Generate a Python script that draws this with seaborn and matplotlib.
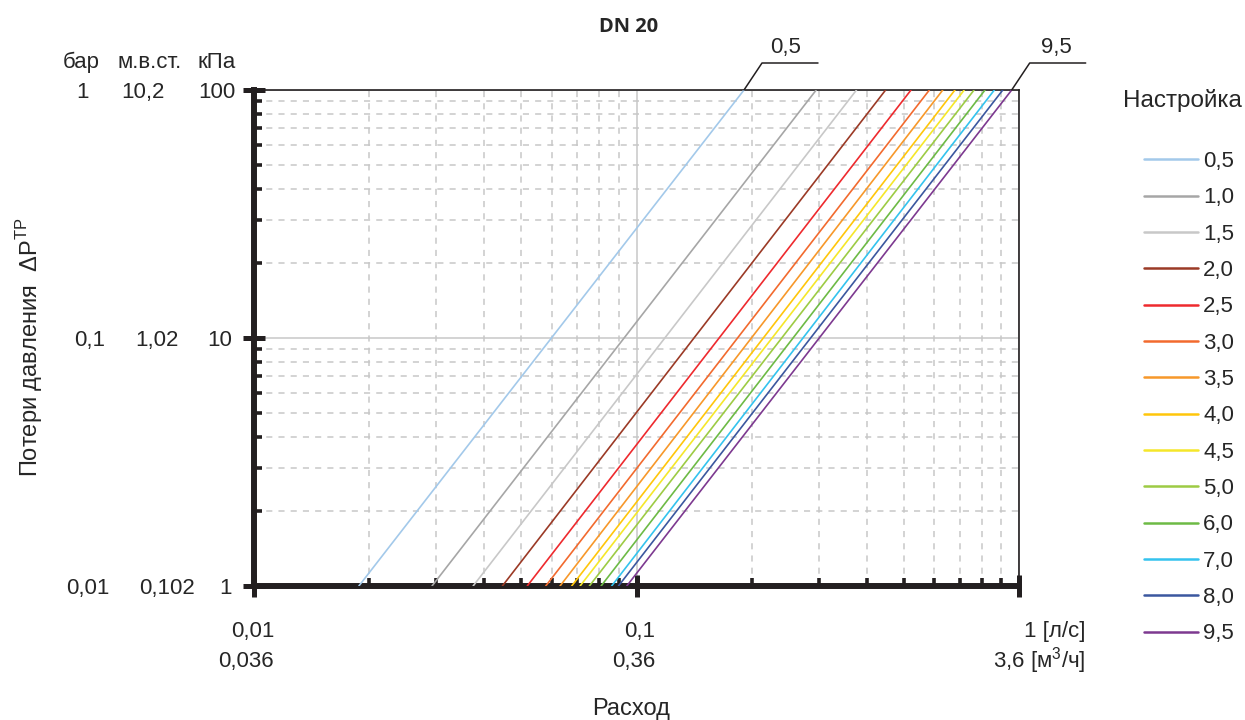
import pandas as pd
import matplotlib.pyplot as plt
import seaborn as sns

# Настройки клапана и расход (л/с) при 1 кПа и при 100 кПа
settings = ['0,5', '1,0', '1,5', '2,0', '2,5', '3,0', '3,5', '4,0', '4,5', '5,0', '6,0', '7,0', '8,0', '9,5']
q_at_1kpa = [0.0188, 0.0292, 0.0374, 0.0446, 0.0518, 0.0579, 0.0631, 0.0677, 0.0712, 0.0753, 0.0808, 0.0861, 0.0897, 0.0943]
q_at_100kpa = [0.191, 0.295, 0.376, 0.448, 0.522, 0.583, 0.632, 0.680, 0.719, 0.763, 0.815, 0.862, 0.907, 0.957]
dp_ends = [1, 100]

colors = ['#A3C9EA', '#A6A6A6', '#C8C8C8', '#9B3A26', '#EE2A2E', '#F26A2E', '#F7982A',
          '#FFC60B', '#F5E72A', '#9DCB44', '#6DBA45', '#34C3EE', '#3B579F', '#7D3990']

# подписи осей
x_ticks = [0.01, 0.1, 1]
x_lab_ls = ['0,01', '0,1', '1 [л/с]']
x_lab_m3 = ['0,036', '0,36', '3,6 [м$^3$/ч]']
y_ticks = [100, 10, 1]
y_lab_bar = ['1', '0,1', '0,01']
y_lab_mws = ['10,2', '1,02', '0,102']
y_lab_kpa = ['100', '10', '1']

rows = []
for s, q1, q2 in zip(settings, q_at_1kpa, q_at_100kpa):
    rows.append({'Настройка': s, 'Q': q1, 'dP': dp_ends[0]})
    rows.append({'Настройка': s, 'Q': q2, 'dP': dp_ends[1]})
df = pd.DataFrame(rows)

sns.set_style('white')
plt.rcParams['font.family'] = ['Liberation Sans', 'DejaVu Sans']
plt.rcParams['mathtext.fontset'] = 'custom'
plt.rcParams['mathtext.rm'] = 'Liberation Sans'

ink = '#231F20'
fig = plt.figure(figsize=(12.45, 7.2), dpi=100)
ax = fig.add_axes([254 / 1245, 1 - 586 / 720, (1019 - 254) / 1245, (586 - 90) / 720])
ax.set_xscale('log')
ax.set_yscale('log')

sns.lineplot(data=df, x='Q', y='dP', hue='Настройка', hue_order=settings,
             palette=colors, estimator=None, sort=False, lw=1.2, ax=ax, zorder=3)

ax.set_xlim(0.01, 1)
ax.set_ylim(1, 100)
ax.set_xlabel('')
ax.set_ylabel('')

ax.grid(which='major', color='#C8C8C8', lw=1.1, ls='-', zorder=0)
ax.grid(which='minor', color='#C8C8C8', lw=1.1, ls=(0, (4, 4)), zorder=0)
ax.tick_params(which='both', bottom=True, left=True, top=False, right=False,
               labelbottom=False, labelleft=False, color=ink)
ax.tick_params(which='major', direction='inout', length=16, width=3.6)
ax.tick_params(which='minor', direction='in', length=6, width=2.6)
for side in ['left', 'bottom']:
    ax.spines[side].set_linewidth(4.3)
    ax.spines[side].set_color(ink)
for side in ['top', 'right']:
    ax.spines[side].set_linewidth(1.2)
    ax.spines[side].set_color(ink)

fs = 16
xt = ax.get_xaxis_transform()
for q, a, b, off in zip(x_ticks, x_lab_ls, x_lab_m3, [20, 19, 66]):
    ax.annotate(a, xy=(q, 0), xycoords=xt, xytext=(off, -46), textcoords='offset pixels',
                ha='right', va='center', fontsize=fs)
    ax.annotate(b, xy=(q, 0), xycoords=xt, xytext=(off, -75), textcoords='offset pixels',
                ha='right', va='center', fontsize=fs)

yt = ax.get_yaxis_transform()
for v, a, b, c, x1, x2, x3 in zip(y_ticks, y_lab_bar, y_lab_mws, y_lab_kpa,
                                   [82, 90, 88], [143, 157, 167], [236, 232, 232]):
    ax.annotate(a, xy=(0, v), xycoords=yt, xytext=(x1 - 254, 0), textcoords='offset pixels',
                ha='center', va='center_baseline', fontsize=fs)
    ax.annotate(b, xy=(0, v), xycoords=yt, xytext=(x2 - 254, 0), textcoords='offset pixels',
                ha='center', va='center_baseline', fontsize=fs)
    ax.annotate(c, xy=(0, v), xycoords=yt, xytext=(x3 - 254, 0), textcoords='offset pixels',
                ha='right', va='center_baseline', fontsize=fs)
for txt, x in zip(['бар', 'м.в.ст.', 'кПа'], [81, 150, 217]):
    fig.text(x / 1245, 1 - 62 / 720, txt, ha='center', va='center', fontsize=fs)

# выноски для первой и последней настройки
for s, q, tx in [(settings[0], q_at_100kpa[0], 42), (settings[-1], q_at_100kpa[-1], 45)]:
    ax.annotate('', xy=(q, 100), xycoords='data', xytext=(74, 27), textcoords='offset pixels',
                arrowprops=dict(arrowstyle='-', lw=1.1, color=ink, shrinkA=0, shrinkB=0,
                                connectionstyle='angle,angleA=0,angleB=56.3,rad=0'),
                annotation_clip=False)
    ax.annotate(s, xy=(q, 100), xycoords='data', xytext=(tx, 42), textcoords='offset pixels',
                ha='center', va='center', fontsize=fs, annotation_clip=False)

handles, labels = ax.get_legend_handles_labels()
for h in handles:
    h.set_linewidth(1.8)
ax.legend(handles, labels, loc='upper left', bbox_to_anchor=(1144 / 1245, 1 - 151 / 720),
          bbox_transform=fig.transFigure, frameon=False, fontsize=fs, borderpad=0,
          borderaxespad=0, handlelength=2.45, handletextpad=0.22, labelspacing=0.69)
fig.text(1182 / 1245, 1 - 101 / 720, 'Настройка', ha='center', va='center', fontsize=17.5)

fig.text(629 / 1245, 1 - 27 / 720, 'DN 20', ha='center', va='center', fontsize=14.5,
         fontweight='bold', family=['Open Sans', 'DejaVu Sans'])
fig.text(631 / 1245, 1 - 709 / 720, 'Расход', ha='center', va='center', fontsize=17)
fig.text(30 / 1245, 1 - 347 / 720, 'Потери давления  ΔP$^{\\mathregular{ТР}}$', rotation=90,
         ha='center', va='center', fontsize=17)

fig.savefig('out.png', dpi=100)
